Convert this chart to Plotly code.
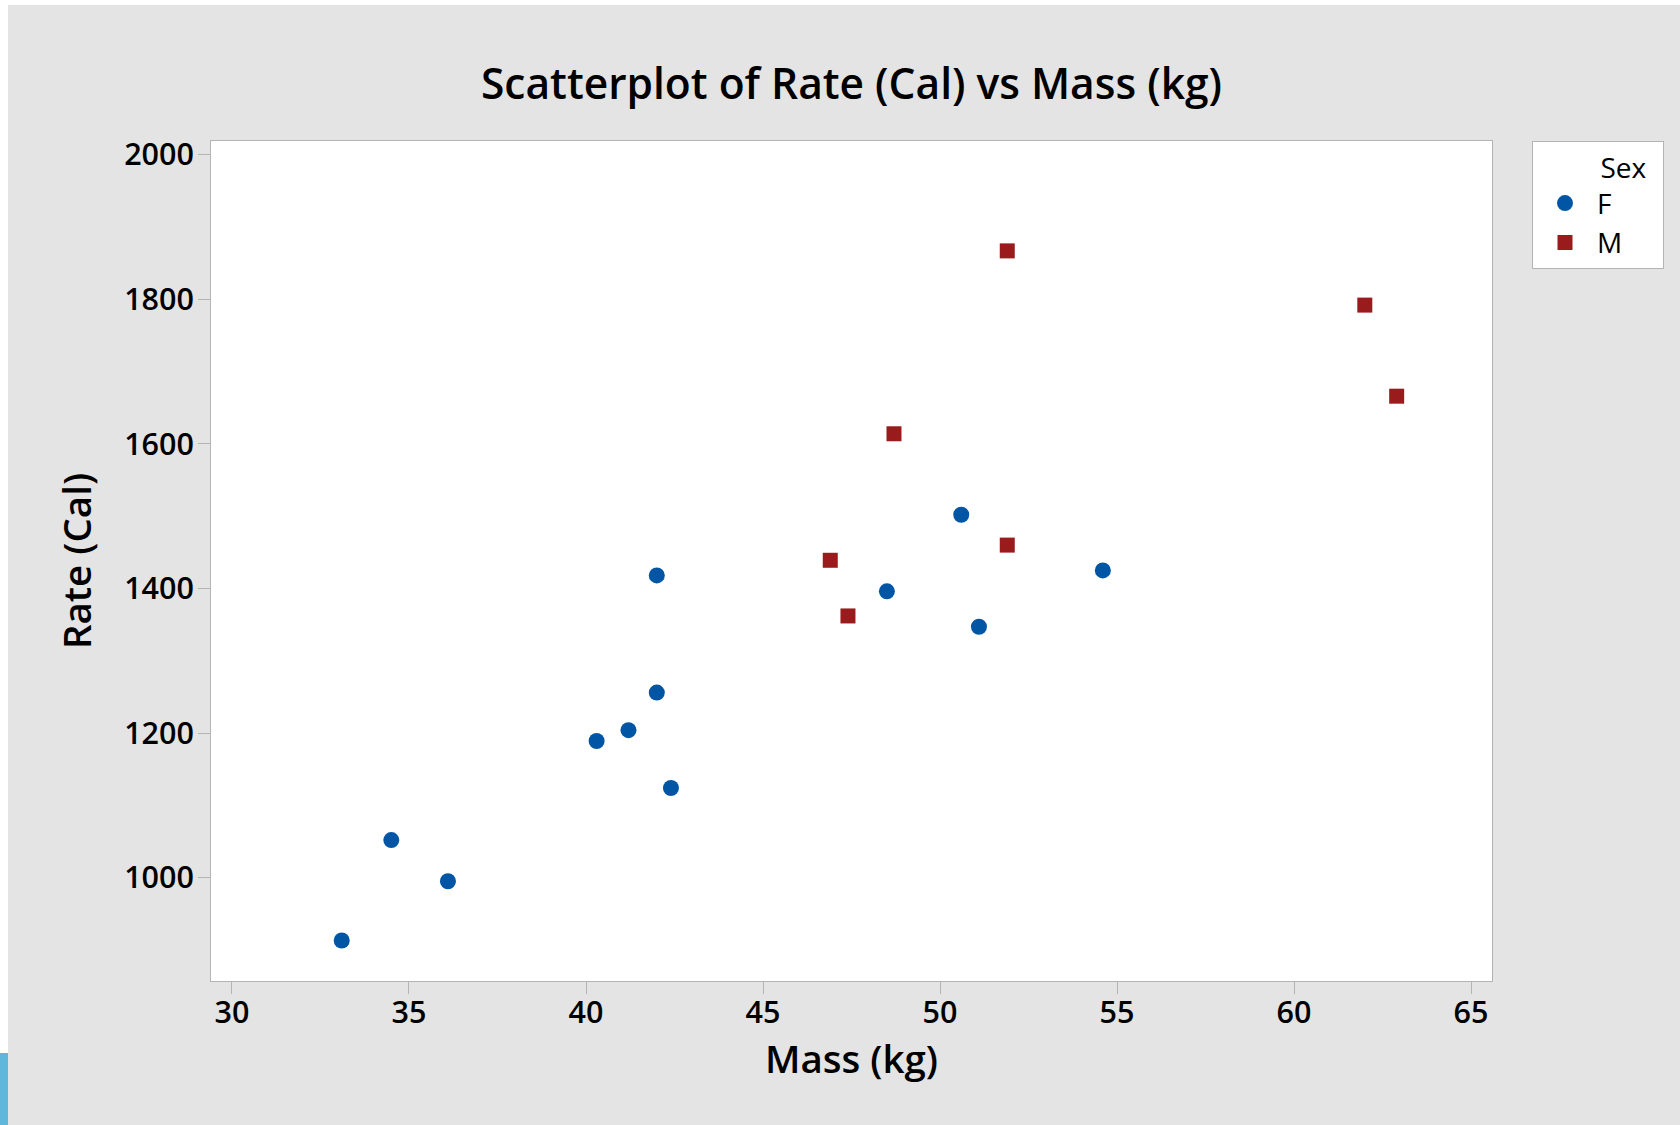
import plotly.graph_objects as go

# Data
mass_f = [36.1, 54.6, 48.5, 42.0, 50.6, 42.0, 40.3, 33.1, 42.4, 34.5, 51.1, 41.2]
rate_f = [995, 1425, 1396, 1418, 1502, 1256, 1189, 913, 1124, 1052, 1347, 1204]
mass_m = [62.0, 62.9, 47.4, 48.7, 51.9, 51.9, 46.9]
rate_m = [1792, 1666, 1362, 1614, 1460, 1867, 1439]
x_ticks = [30, 35, 40, 45, 50, 55, 60, 65]
y_ticks = [1000, 1200, 1400, 1600, 1800, 2000]

W, H = 1680, 1125
L, R, T, B = 211, 188, 141, 144
PW, PH = W - L - R, H - T - B

FONT = "Open Sans"
BG = "#e4e4e4"
AX = "#b4b4b4"
NB = "\u00a0"

fig = go.Figure()
fig.add_trace(go.Scatter(x=mass_f, y=rate_f, mode="markers", name="F",
                         marker=dict(symbol="circle", size=16, color="#0055a5")))
fig.add_trace(go.Scatter(x=mass_m, y=rate_m, mode="markers", name="M",
                         marker=dict(symbol="square", size=15, color="#991b1b")))

def px_x(p):
    return (p - L) / PW

def px_y(p):
    return (H - B - p) / PH

shapes = [
    dict(type="rect", xref="paper", yref="paper", x0=px_x(0), x1=px_x(8), y0=px_y(H), y1=px_y(0),
         fillcolor="white", line=dict(width=0), layer="above"),
    dict(type="rect", xref="paper", yref="paper", x0=px_x(0), x1=px_x(W), y0=px_y(5), y1=px_y(0),
         fillcolor="white", line=dict(width=0), layer="above"),
    dict(type="rect", xref="paper", yref="paper", x0=px_x(0), x1=px_x(8), y0=px_y(H), y1=px_y(1053),
         fillcolor="#5fb8dc", line=dict(width=0), layer="above"),
]

fig.update_layout(
    width=W, height=H,
    margin=dict(l=L, r=R, t=T, b=B, pad=0),
    paper_bgcolor=BG, plot_bgcolor="white",
    font=dict(family=FONT, color="black"),
    title=dict(text="Scatterplot of Rate (Cal) vs Mass (kg)", x=0.5, xref="paper", xanchor="center",
               y=1 - 84 / H, yref="container", yanchor="middle",
               font=dict(family=FONT, size=42.5, weight=600, color="black")),
    xaxis=dict(range=[29.407, 65.593], tickvals=x_ticks, ticks="outside", ticklen=12, tickcolor=AX,
               tickwidth=1, showgrid=False, zeroline=False, showline=True, linecolor=AX, linewidth=1,
               mirror=True, tickfont=dict(size=30.5, family=FONT, weight=600), ticklabelstandoff=-8,
               title=dict(text="Mass (kg)", font=dict(size=38.5, weight=600, family=FONT), standoff=12)),
    yaxis=dict(range=[857, 2019], tickvals=y_ticks, ticks="outside", ticklen=12, tickcolor=AX,
               tickwidth=1, showgrid=False, zeroline=False, showline=True, linecolor=AX, linewidth=1,
               mirror=True, tickfont=dict(size=30.5, family=FONT, weight=600), ticklabelstandoff=-2,
               title=dict(text="Rate (Cal)", font=dict(size=38.5, weight=600, family=FONT), standoff=20)),
    legend=dict(x=px_x(1532), y=1, xanchor="left", yanchor="top", bgcolor="white",
                bordercolor=AX, borderwidth=1, font=dict(size=28, family=FONT, weight=500),
                title=dict(text=NB * 9 + "Sex" + NB * 2, side="top", font=dict(size=28, family=FONT, weight=500)),
                itemwidth=54, tracegroupgap=0),
    shapes=shapes,
)

fig.write_html("out.html")
